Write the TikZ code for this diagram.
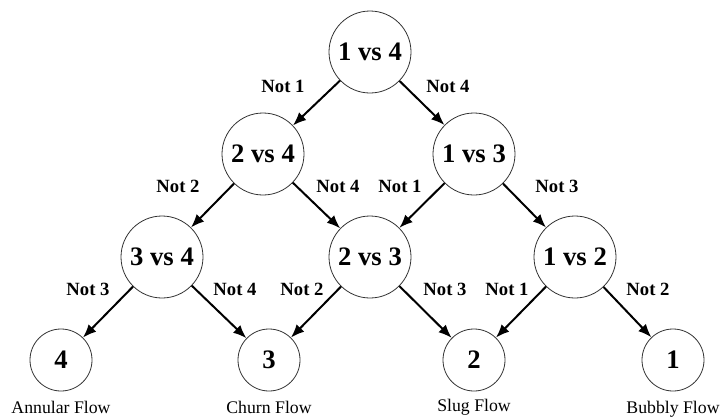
\documentclass[tikz,border=0pt]{standalone}
\usepackage{fontspec}
\setmainfont{Liberation Serif}
\usetikzlibrary{arrows.meta}
\begin{document}
\begin{tikzpicture}[x=0.75pt,y=-0.75pt,
  big/.style={circle,draw=black!80,line width=0.6pt,minimum size=61.5pt,inner sep=0pt,font=\fontsize{20}{20}\selectfont\bfseries},
  leaf/.style={circle,draw=black!80,line width=0.6pt,minimum size=46.5pt,inner sep=0pt,font=\fontsize{20}{20}\selectfont\bfseries},
  arr/.style={line width=1.5pt,-{Latex[length=10pt,width=8pt]}},
  elab/.style={font=\fontsize{14}{14}\selectfont\bfseries,inner sep=0pt},
  flab/.style={font=\fontsize{13.3}{13.3}\selectfont,inner sep=0pt}]
\useasboundingbox (0,0) rectangle (721,419);
\node[big] (a) at (370,52) {1 vs 4};
\node[big] (b) at (263,154) {2 vs 4};
\node[big] (c) at (474,154) {1 vs 3};
\node[big] (d) at (162,257) {3 vs 4};
\node[big] (e) at (370,257) {2 vs 3};
\node[big] (f) at (575,257) {1 vs 2};
\node[leaf] (l4) at (61,360) {4};
\node[leaf] (l3) at (269,360) {3};
\node[leaf] (l2) at (474,360) {2};
\node[leaf] (l1) at (673,360) {1};
\draw[arr] (a) -- (b);
\draw[arr] (a) -- (c);
\draw[arr] (b) -- (d);
\draw[arr] (b) -- (e);
\draw[arr] (c) -- (e);
\draw[arr] (c) -- (f);
\draw[arr] (d) -- (l4);
\draw[arr] (d) -- (l3);
\draw[arr] (e) -- (l3);
\draw[arr] (e) -- (l2);
\draw[arr] (f) -- (l2);
\draw[arr] (f) -- (l1);
\node[elab] (t1) at (283,86) {Not 1};
\node[elab] (t2) at (448,86) {Not 4};
\node[elab] (t3) at (178,186) {Not 2};
\node[elab] (t4) at (338,186) {Not 4};
\node[elab] (t5) at (400,186) {Not 1};
\node[elab] (t6) at (557,186) {Not 3};
\node[elab] (t7) at (88,289) {Not 3};
\node[elab] (t8) at (235,289) {Not 4};
\node[elab] (t9) at (302,289) {Not 2};
\node[elab] (t10) at (445,289) {Not 3};
\node[elab] (t11) at (507,289) {Not 1};
\node[elab] (t12) at (648,289) {Not 2};
\node[flab] (n4) at (61,407) {Annular Flow};
\node[flab] (n3) at (269,407) {Churn Flow};
\node[flab] (n2) at (474,407) {Slug Flow};
\node[flab] (n1) at (673,409) {Bubbly Flow};
\end{tikzpicture}
\end{document}
